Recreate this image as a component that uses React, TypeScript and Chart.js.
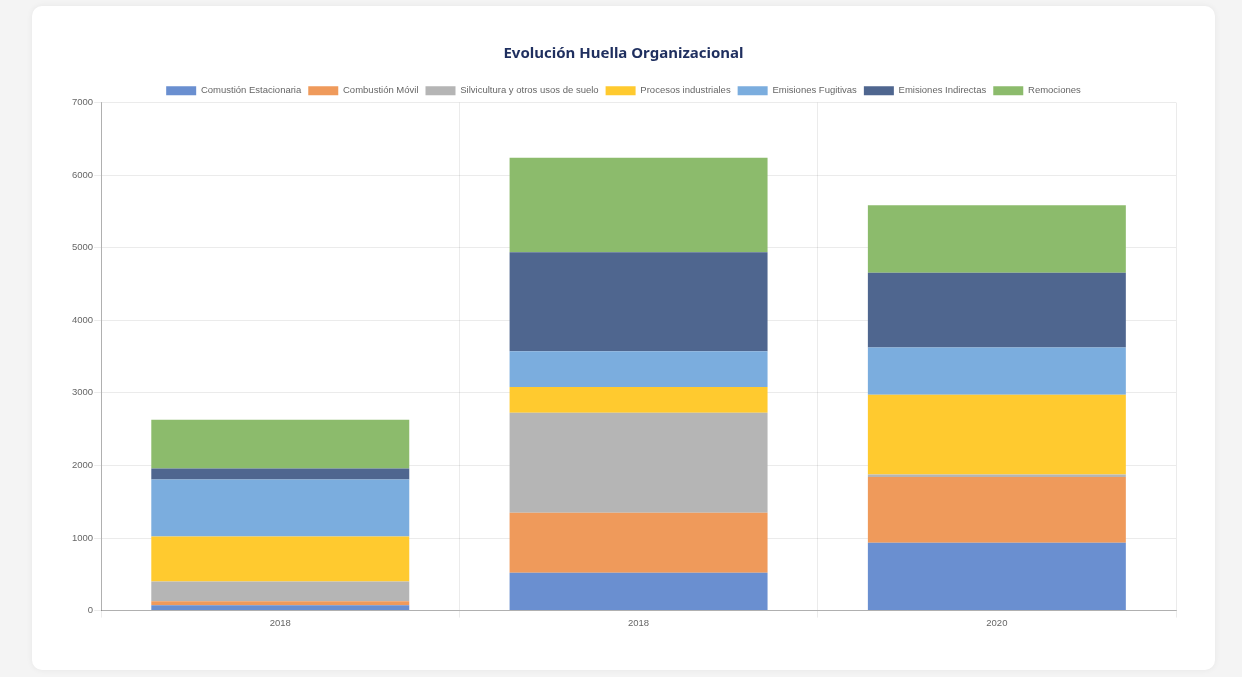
import React, { useEffect, useRef } from "react";
import { Chart, registerables } from "chart.js";

Chart.register(...registerables);

const categories = ["2018", "2018", "2020"];
const seriesNames = [
  "Comustión Estacionaria",
  "Combustión Móvil",
  "Silvicultura y otros usos de suelo",
  "Procesos industriales",
  "Emisiones Fugitivas",
  "Emisiones Indirectas",
  "Remociones",
];
const comustionEstacionaria = [75, 520, 934];
const combustionMovil = [55, 828, 905];
const silvicultura = [270, 1379, 37];
const procesosIndustriales = [620, 353, 1099];
const emisionesFugitivas = [785, 492, 648];
const emisionesIndirectas = [152, 1365, 1030];
const remociones = [671, 1301, 932];
const seriesColors = ["#6a8fd0", "#ef9a5b", "#b5b5b5", "#ffca2f", "#7badde", "#4f668f", "#8cbb6c"];
const yTicks = { min: 0, max: 7000, step: 1000 };

const legendTighten = {
  id: "legendTighten",
  beforeInit(chart: any) {
    const legend = chart.legend;
    if (!legend) return;
    const origFit = legend.fit;
    legend.fit = function () {
      origFit.call(this);
      this.height -= 3;
    };
  },
};

export default function App() {
  const ref = useRef<HTMLCanvasElement | null>(null);
  useEffect(() => {
    if (!ref.current) return;
    const values = [
      comustionEstacionaria,
      combustionMovil,
      silvicultura,
      procesosIndustriales,
      emisionesFugitivas,
      emisionesIndirectas,
      remociones,
    ];
    const smallFont = { family: "'Liberation Sans', Arial", size: 9.5 };
    const chart = new Chart(ref.current, {
      type: "bar",
      data: {
        labels: categories,
        datasets: seriesNames.map((name, i) => ({
          label: name,
          data: values[i],
          backgroundColor: seriesColors[i],
          borderWidth: 0,
        })),
      },
      options: {
        animation: false,
        responsive: false,
        maintainAspectRatio: false,
        layout: { padding: { top: 5, left: 0, right: 25, bottom: 0 } },
        plugins: {
          title: {
            display: true,
            text: "Evolución Huella Organizacional",
            color: "#1f2f5f",
            font: { family: "'Noto Sans'", size: 15, weight: "bold" },
            padding: { top: 10, bottom: 16 },
          },
          legend: {
            position: "top",
            labels: {
              boxWidth: 30,
              boxHeight: 9,
              padding: 7,
              color: "#666",
              font: smallFont,
            },
          },
          tooltip: { enabled: false },
        },
        scales: {
          x: {
            stacked: true,
            grid: { color: "rgba(0,0,0,0.08)", tickLength: 7 },
            border: { color: "rgba(0,0,0,0.25)" },
            ticks: { color: "#666", font: smallFont, padding: 0 },
          },
          y: {
            stacked: true,
            min: yTicks.min,
            max: yTicks.max,
            grid: { color: "rgba(0,0,0,0.08)", tickLength: 7 },
            border: { color: "rgba(0,0,0,0.25)" },
            ticks: {
              stepSize: yTicks.step,
              color: "#666",
              font: smallFont,
              padding: 1,
              callback: (v: any) => String(v),
            },
          },
        },
      },
      plugins: [legendTighten],
    });
    return () => chart.destroy();
  }, []);

  return (
    <div style={{ position: "absolute", left: 0, top: 0, width: 1242, height: 677, background: "#f4f4f4", overflow: "hidden" }}>
      <div
        style={{
          position: "absolute",
          left: 32,
          top: 6,
          width: 1183,
          height: 664,
          background: "#fff",
          borderRadius: 10,
          boxShadow: "0 0 6px rgba(0,0,0,0.06)",
        }}
      />
      <canvas
        ref={ref}
        width={1130}
        height={599}
        style={{ position: "absolute", left: 71, top: 30, width: 1130, height: 599 }}
      />
    </div>
  );
}
